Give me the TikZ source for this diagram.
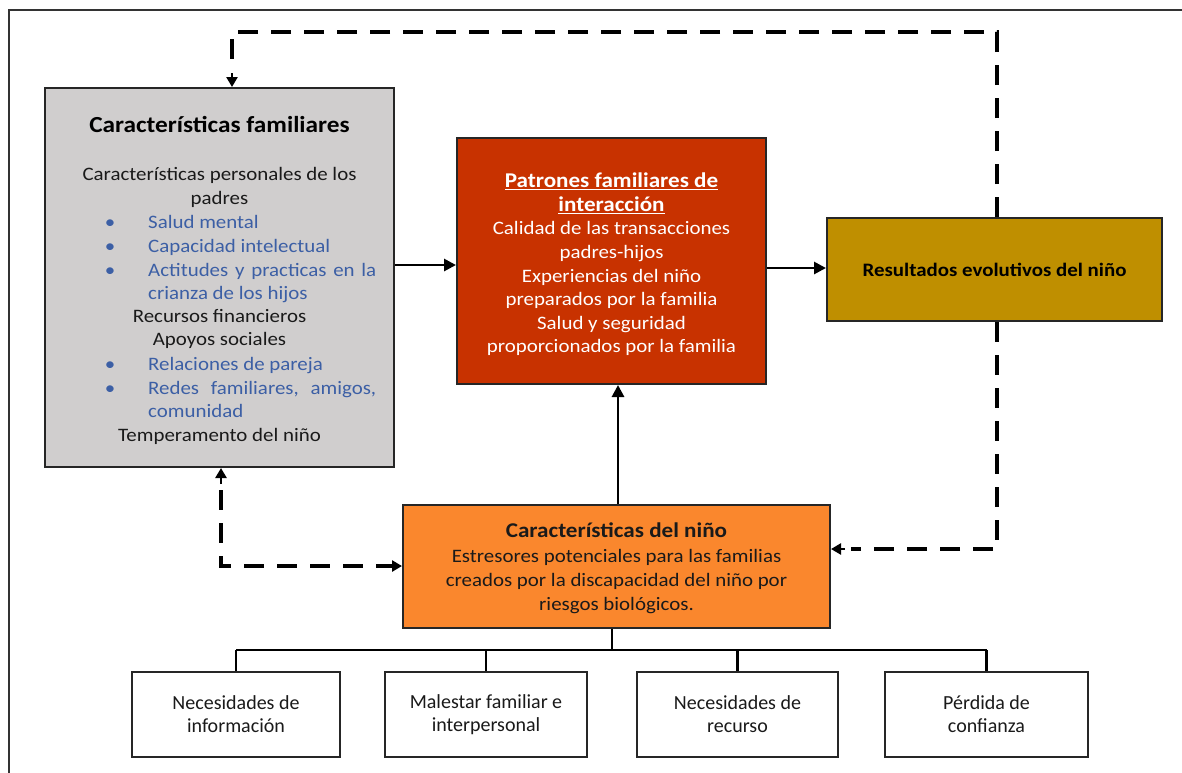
\documentclass[tikz,border=0pt]{standalone}
\usepackage{fontspec}
\setmainfont{Carlito}[FakeStretch=1.1]
\newfontfamily\plainfont{Carlito}
\usetikzlibrary{arrows.meta,calc}
\definecolor{famgray}{HTML}{D0CECE}
\definecolor{patred}{HTML}{C83200}
\definecolor{resgold}{HTML}{BF8F00}
\definecolor{chorange}{HTML}{FA872D}
\definecolor{bulblue}{HTML}{3C5FA5}
\definecolor{txt}{HTML}{1A1A1A}
\begin{document}
\begin{tikzpicture}[x=1pt,y=-1pt,
  box/.style={draw=black!85, line width=2pt, inner sep=0pt},
  body/.style={font=\fontsize{19}{23.6}\selectfont, text=txt, inner sep=0pt},
  blt/.style={font=\fontsize{19}{23.6}\selectfont, text=bulblue, inner sep=0pt, anchor=base west},
  arr/.style={line width=2.8pt, draw=black, -{Triangle[length=12pt,width=12pt]}},
  dsh/.style={line width=4pt, draw=black, dash pattern=on 20pt off 13pt},
  dtip/.style={-{Triangle[length=10pt,width=11pt]}},
  ln/.style={line width=2.5pt, draw=black},
  small/.style={box, fill=white, font=\plainfont\fontsize{20}{23}\selectfont, text=txt, align=center, minimum height=85pt}
]
\useasboundingbox (0,0) rectangle (1182,772);
\fill[white] (0,0) rectangle (1182,772);
\draw[black!80, line width=1.5pt] (9,10) rectangle (1200,800);

% boxes
\node[box, fill=famgray, minimum width=349pt, minimum height=379pt] (fam) at (219.5,277.5) {};
\node[box, fill=patred, minimum width=309pt, minimum height=246pt] (pat) at (611.5,261) {};
\node[box, fill=resgold, minimum width=335pt, minimum height=103pt, font=\bfseries\fontsize{19}{23}\selectfont, text=black] (res) at (994.5,269.5) {Resultados evolutivos del niño};
\node[box, fill=chorange, minimum width=427pt, minimum height=123pt] (ch) at (616.5,566.5) {};

% left box text
\node[body, font=\bfseries\fontsize{23}{26}\selectfont, text=black, anchor=base] (ft) at (219.5,132) {Características familiares};
\node[body, anchor=base] (f1) at (219.5,180) {Características personales de los};
\node[body, anchor=base] (f2) at (219.5,204) {padres};
\node[blt] (b1) at (148,228) {Salud mental};
\node[blt] (b2) at (148,252) {Capacidad intelectual};
\node[blt] (b3) at (148,276) {\hbox to 228pt{Actitudes\hfill y\hfill practicas\hfill en\hfill la}};
\node[blt] (b3b) at (148,299) {crianza de los hijos};
\node[body, anchor=base] (f3) at (219.5,322) {Recursos financieros};
\node[body, anchor=base] (f4) at (219.5,345) {Apoyos sociales};
\node[blt] (b4) at (148,370) {Relaciones de pareja};
\node[blt] (b5) at (148,394) {\hbox to 228pt{Redes\hfill familiares,\hfill amigos,}};
\node[blt] (b5b) at (148,417) {comunidad};
\node[body, anchor=base] (f5) at (219.5,441) {Temperamento del niño};
\foreach \n/\yy in {b1/228,b2/252,b3/276,b4/370,b5/394}
  \node[blt, anchor=base] (d\n) at (110,\yy) {\textbullet};

% center box text
\node[body, text=white, align=center] (pt) at (611.5,264.5) {%
  {\bfseries\fontsize{21}{23.6}\selectfont\underline{Patrones familiares de}}\\
  {\bfseries\fontsize{21}{23.6}\selectfont\underline{interacción}}\\
  Calidad de las transacciones\\
  padres-hijos\\
  Experiencias del niño\\
  preparados por la familia\\
  Salud y seguridad\\
  proporcionados por la familia};

% orange box text
\node[body, font=\fontsize{19}{24.3}\selectfont, align=center] (cht) at (616.5,568.5) {%
  {\bfseries\fontsize{21}{24.3}\selectfont Características del niño}\\
  Estresores potenciales para las familias\\
  creados por la discapacidad del niño por\\
  riesgos biológicos.};

% bottom boxes
\node[small, minimum width=208pt] (n1) at (236,714.5) {Necesidades de\\información};
\node[small, minimum width=202pt] (n2) at (486,714.5) {Malestar familiar e\\interpersonal};
\node[small, minimum width=201pt] (n3) at (737.5,714.5) {Necesidades de\\recurso};
\node[small, minimum width=203pt] (n4) at (986.5,714.5) {Pérdida de\\confianza};

% coordinates
\coordinate (ya) at (0,265);
\coordinate (yb) at (0,268);
\coordinate (xc) at (618,0);
\coordinate (xs) at (612,0);
\coordinate (bus) at (0,650);
\coordinate (top) at (997,32);
\coordinate (xl) at (232,0);
\coordinate (yr) at (0,549);
\coordinate (xd) at (221,0);
\coordinate (yd) at (0,566);

% solid arrows
\draw[arr] (fam.east |- ya) -- (pat.west |- ya);
\draw[arr] (pat.east |- yb) -- (res.west |- yb);
\draw[arr] (ch.north -| xc) -- (pat.south -| xc);

% bus
\draw[ln] (ch.south -| xs) -- (bus -| xs);
\draw[ln] (bus -| n1.north) -- (bus -| n4.north);
\foreach \n in {n1,n2,n3,n4} \draw[ln] (bus -| \n.north) -- (\n.north);

% dashed feedback loops
\draw[dsh] (res.north -| top) -- (top) -- (top -| xl) -- ($(fam.north -| xl)+(0,-24)$);
\draw[line width=2.5pt, dtip] ($(fam.north -| xl)+(0,-14)$) -- (fam.north -| xl);
\draw[dsh] (res.south -| top) -- (yr -| top) -- ($(ch.east |- yr)+(20,0)$);
\draw[line width=2.5pt, dtip] ($(ch.east |- yr)+(14,0)$) -- (ch.east |- yr);
\draw[dsh] ($(fam.south -| xd)+(0,22)$) -- (yd -| xd) -- ($(ch.west |- yd)+(-9,0)$);
\draw[line width=2.5pt, dtip] ($(ch.west |- yd)+(-16,0)$) -- (ch.west |- yd);
\draw[line width=2.5pt, dtip] ($(fam.south -| xd)+(0,16)$) -- (fam.south -| xd);
\end{tikzpicture}
\end{document}
